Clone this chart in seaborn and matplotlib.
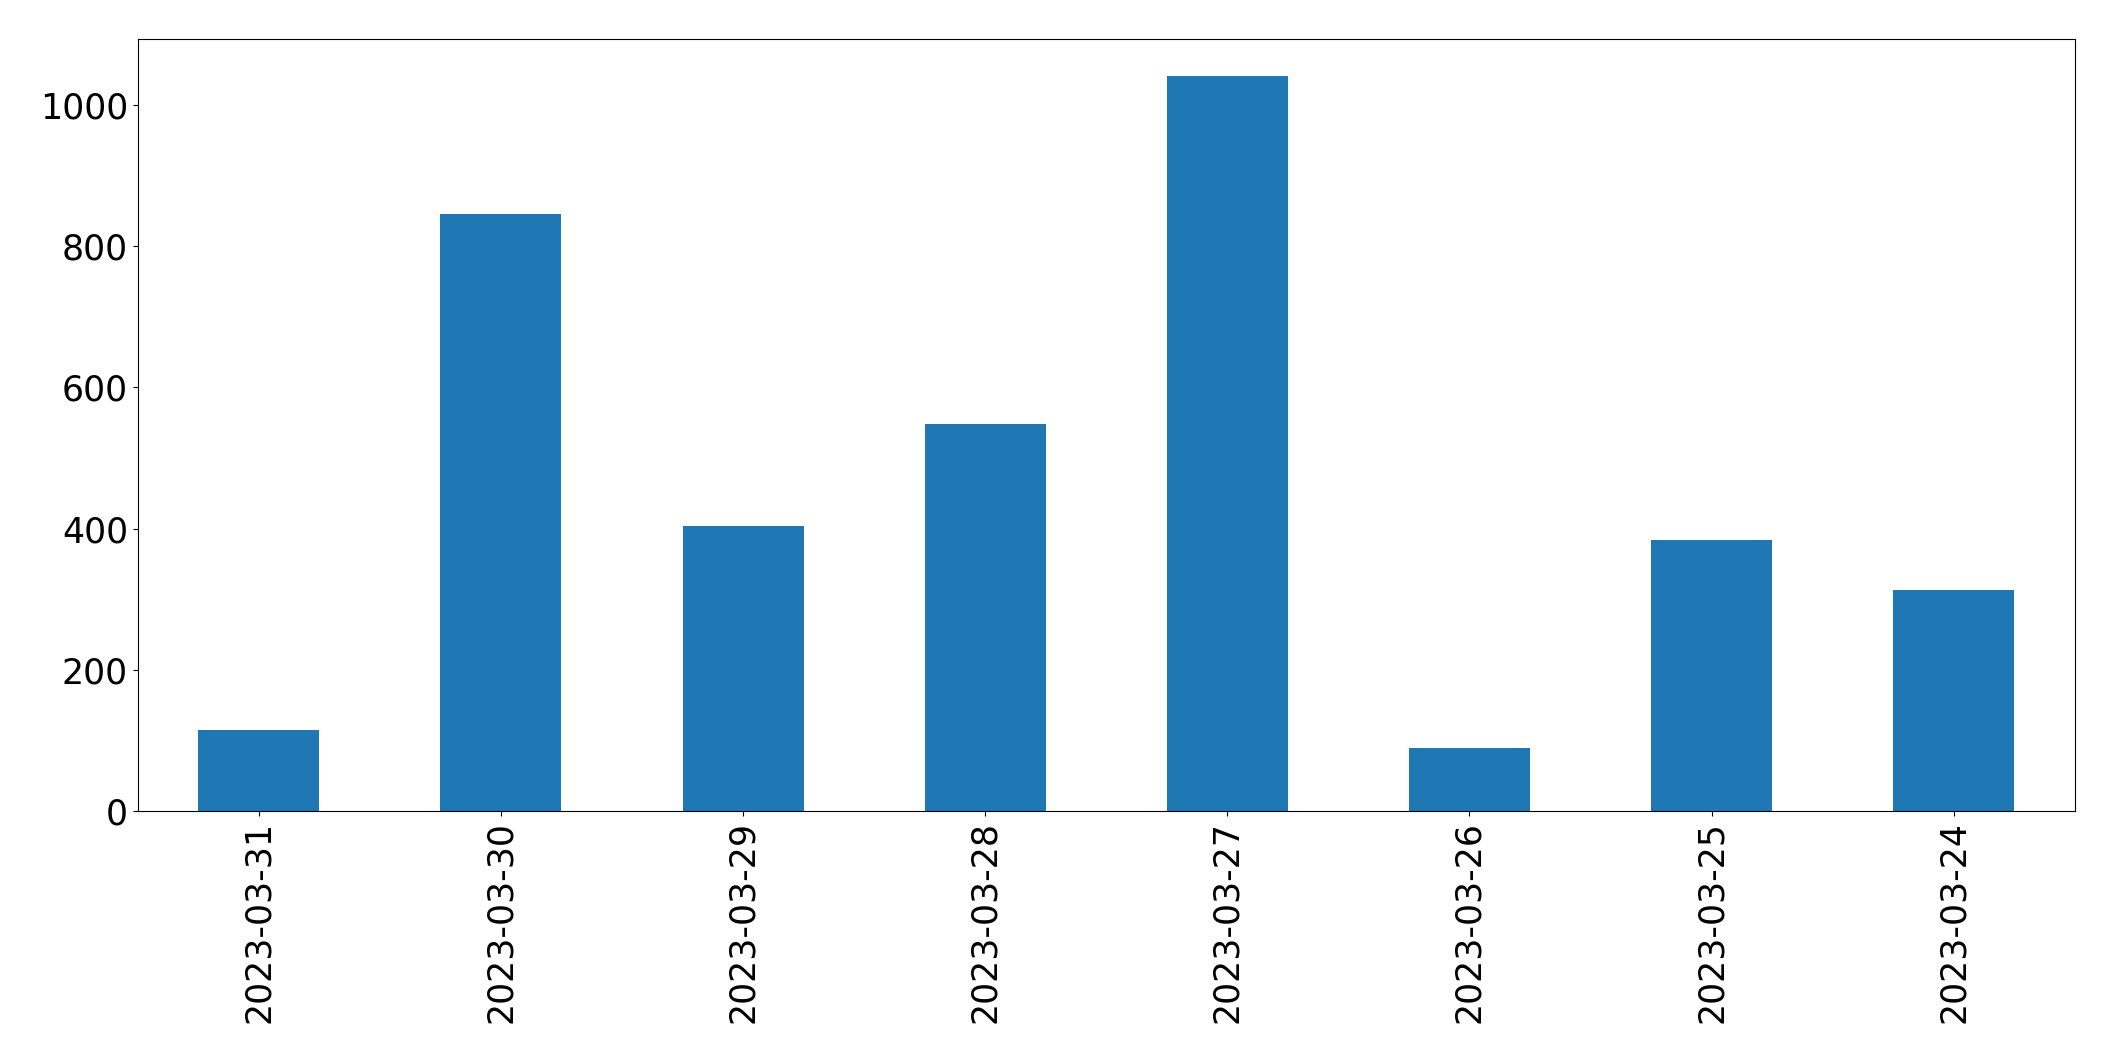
import pandas as pd
import matplotlib
matplotlib.use('Agg')
import matplotlib.pyplot as plt
import seaborn as sns

# daily counts, newest first (as in the reference)
dates = ['2023-03-31', '2023-03-30', '2023-03-29', '2023-03-28',
         '2023-03-27', '2023-03-26', '2023-03-25', '2023-03-24']
counts = [115, 846, 404, 548, 1041, 89, 384, 313]

df = pd.DataFrame({'date': dates, 'count': counts})

fig = plt.figure(figsize=(21.15, 10.61), dpi=100)
ax = fig.add_axes([0.0651, 0.2356, 0.9159, 0.7276])

sns.barplot(data=df, x='date', y='count', order=dates,
            color='#1f77b4', saturation=1, width=0.5, ax=ax)

ax.set_xlim(-0.5, len(dates) - 0.5)
ax.set_ylim(0, max(counts) * 1.05)
ax.set_xlabel('')
ax.set_ylabel('')
ax.tick_params(axis='both', labelsize=25)
ax.tick_params(axis='x', labelrotation=90)
for s in ax.spines.values():
    s.set_color('black')

fig.savefig('out.png', dpi=100)
